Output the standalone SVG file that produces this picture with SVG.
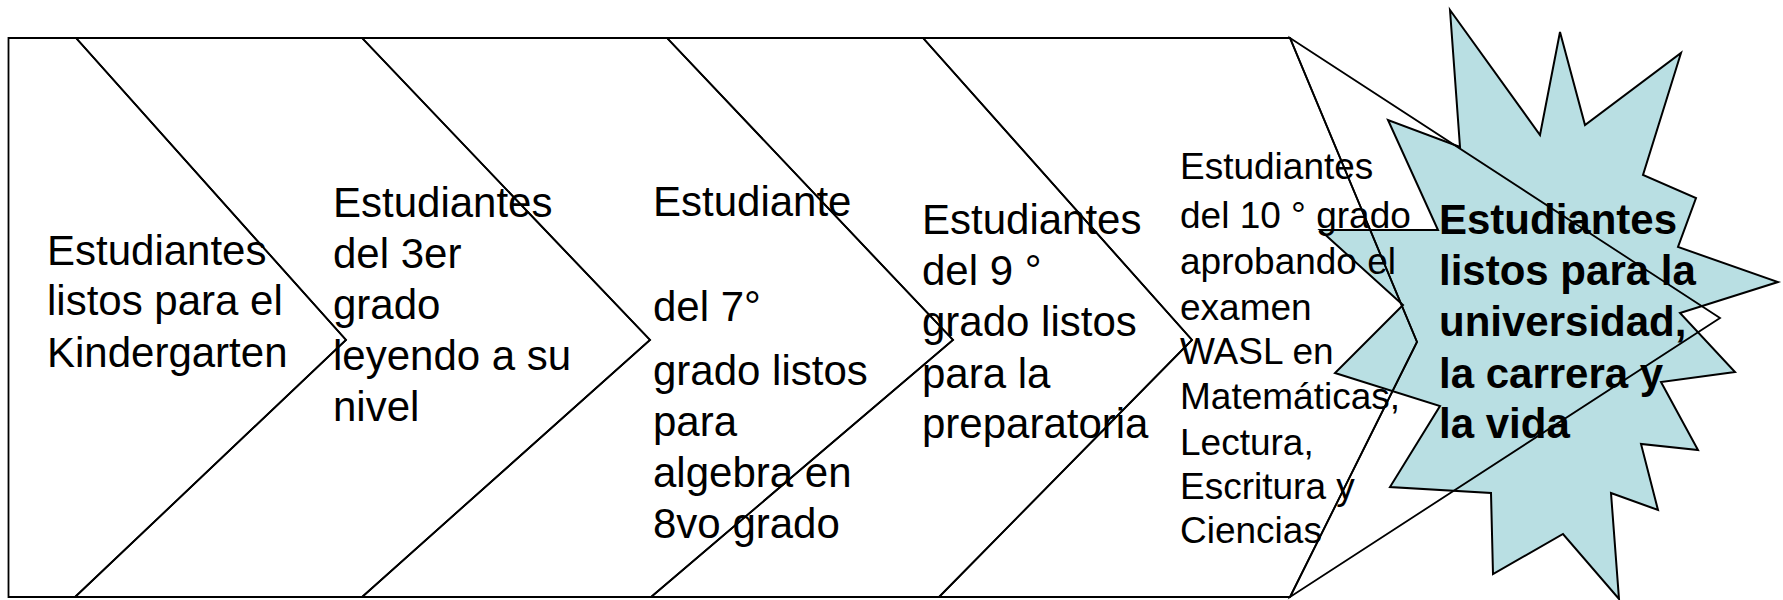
<svg xmlns="http://www.w3.org/2000/svg" width="1783" height="600" viewBox="0 0 1783 600">
<style>
.shape{fill:none;stroke:#000;stroke-width:1.8;stroke-linejoin:miter}
.t{font-family:"Liberation Sans",Arial,sans-serif;font-size:42px;fill:#000}
.s{font-size:37px}
.b{font-weight:bold}
.star{fill:#B9DFE3;stroke:#000;stroke-width:2;stroke-linejoin:miter}
</style>
<rect width="1783" height="600" fill="#fff"/>
<g id="goal">
<polygon class="star" points="1450,10 1540,135 1560,32 1585,125 1681,53 1643,175 1696,198 1678,247 1778,282 1680,313 1735,372 1661,382 1698,450 1641,444 1658,510 1611,493 1619,599 1563,534 1493,574 1491,493 1390,487 1440,406 1335,373 1403,305 1320,230 1438,230 1388,120 1460,147"/>
<text class="t b"><tspan x="1439" y="234">Estudiantes</tspan><tspan x="1439" y="285">listos para la</tspan><tspan x="1439" y="336">universidad,</tspan><tspan x="1439" y="388">la carrera y</tspan><tspan x="1439" y="438">la vida</tspan></text>
</g>
<g id="stage1">
<path class="shape" d="M8.5,38 L76,38 L346,340 L75,597 L8.5,597 Z"/>
<text class="t"><tspan x="47" y="265">Estudiantes</tspan><tspan x="47" y="315">listos para el</tspan><tspan x="47" y="367">Kindergarten</tspan></text>
</g>
<g id="stage2">
<path class="shape" d="M76,38 L362,38 L650,340 L362,597 L75,597 L346,340 Z"/>
<text class="t"><tspan x="333" y="217">Estudiantes</tspan><tspan x="333" y="268">del 3er</tspan><tspan x="333" y="319">grado</tspan><tspan x="333" y="370">leyendo a su</tspan><tspan x="333" y="421">nivel</tspan></text>
</g>
<g id="stage3">
<path class="shape" d="M362,38 L667,38 L953,340 L651,597 L362,597 L650,340 Z"/>
<text class="t"><tspan x="653" y="216">Estudiante</tspan><tspan x="653" y="321">del 7°</tspan><tspan x="653" y="385">grado listos</tspan><tspan x="653" y="436">para</tspan><tspan x="653" y="487">algebra en</tspan><tspan x="653" y="538">8vo grado</tspan></text>
</g>
<g id="stage4">
<path class="shape" d="M667,38 L923,38 L1192,340 L939,597 L651,597 L953,340 Z"/>
<text class="t"><tspan x="922" y="234">Estudiantes</tspan><tspan x="922" y="285">del 9 °</tspan><tspan x="922" y="336">grado listos</tspan><tspan x="922" y="388">para la</tspan><tspan x="922" y="438">preparatoria</tspan></text>
</g>
<g id="stage5">
<path class="shape" d="M923,38 L1290,38 L1417,342 L1290,597 L939,597 L1192,340 Z"/>
<text class="t s"><tspan x="1180" y="179">Estudiantes</tspan><tspan x="1180" y="228">del 10 ° grado</tspan><tspan x="1180" y="274">aprobando el</tspan><tspan x="1180" y="320">examen</tspan><tspan x="1180" y="364">WASL en</tspan><tspan x="1180" y="409">Matemáticas,</tspan><tspan x="1180" y="455">Lectura,</tspan><tspan x="1180" y="499">Escritura y</tspan><tspan x="1180" y="543">Ciencias</tspan></text>
</g>
<g id="stage6">
<path class="shape" d="M1290,38 L1720,318 L1290,597 L1417,342 Z"/>
</g>
<g id="connectors"></g>
</svg>
